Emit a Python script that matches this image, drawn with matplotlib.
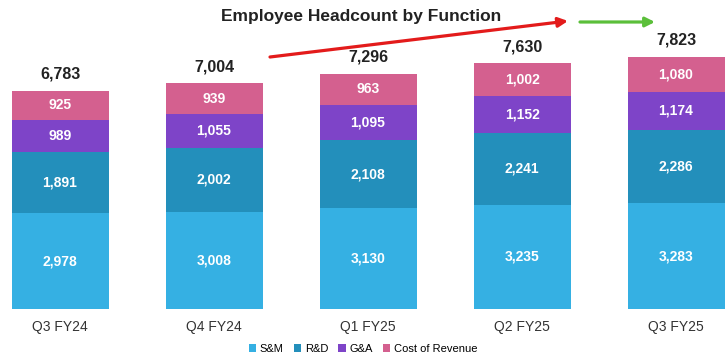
"""Employee headcount by function, stacked bars."""

import matplotlib
matplotlib.use("Agg")
import matplotlib.pyplot as plt
import numpy as np

plt.rcParams["font.family"] = ["Liberation Sans", "DejaVu Sans"]

quarters = ["Q3 FY24", "Q4 FY24", "Q1 FY25", "Q2 FY25", "Q3 FY25"]
sm = [2978, 3008, 3130, 3235, 3283]
rd = [1891, 2002, 2108, 2241, 2286]
ga = [989, 1055, 1095, 1152, 1174]
cost_rev = [925, 939, 963, 1002, 1080]
totals = [6783, 7004, 7296, 7630, 7823]

series = [
    ("S&M", sm, "#35B0E3"),
    ("R&D", rd, "#238FBB"),
    ("G&A", ga, "#7E44C8"),
    ("Cost of Revenue", cost_rev, "#D4608F"),
]

W, H = 727, 355
fig = plt.figure(figsize=(W / 100, H / 100), dpi=100)
# axes spans from bar baseline (46 px from bottom) to top of figure
ax = fig.add_axes([0, 46 / H, 1, 1 - 46 / H])
ax.axis("off")

x = np.arange(len(quarters))
width = 0.63
bottom = np.zeros(len(quarters))
for name, vals, color in series:
    vals = np.array(vals)
    ax.bar(x, vals, width, bottom=bottom, color=color, label=name)
    for xi, b, v in zip(x, bottom, vals):
        ax.text(xi, b + v / 2, f"{v:,}", ha="center", va="center",
                color="white", fontsize=10, fontweight="bold")
    bottom += vals

for xi, t in zip(x, totals):
    ax.text(xi, t + 280, f"{t:,}", ha="center", va="bottom",
            color="#222222", fontsize=11.5, fontweight="bold")

for xi, q in zip(x, quarters):
    ax.text(xi, -330, q, ha="center", va="top", color="#333333", fontsize=10)

ax.set_xlim(-0.39, 4.331)
ax.set_ylim(0, 9593)

fig.text(361 / W, 1 - 17 / H, "Employee Headcount by Function", ha="center",
         va="center", fontsize=12.5, fontweight="bold", color="#222222")

# trend arrows
ax.annotate("", xy=(568, H - 21), xytext=(270, H - 57),
            xycoords="figure pixels", textcoords="figure pixels",
            arrowprops=dict(arrowstyle="-|>", color="#E31B1B", lw=2.3,
                            mutation_scale=14, shrinkA=0, shrinkB=0))
ax.annotate("", xy=(655, H - 22), xytext=(580, H - 22),
            xycoords="figure pixels", textcoords="figure pixels",
            arrowprops=dict(arrowstyle="-|>", color="#5BBF3A", lw=2.3,
                            mutation_scale=14, shrinkA=0, shrinkB=0))

fig.legend(loc="center", bbox_to_anchor=(363 / W, 6 / H), ncol=4, frameon=False,
           fontsize=8, handlelength=0.7, handleheight=0.7,
           handletextpad=0.3, columnspacing=0.9, borderpad=0)

fig.savefig("out.png", dpi=100)
